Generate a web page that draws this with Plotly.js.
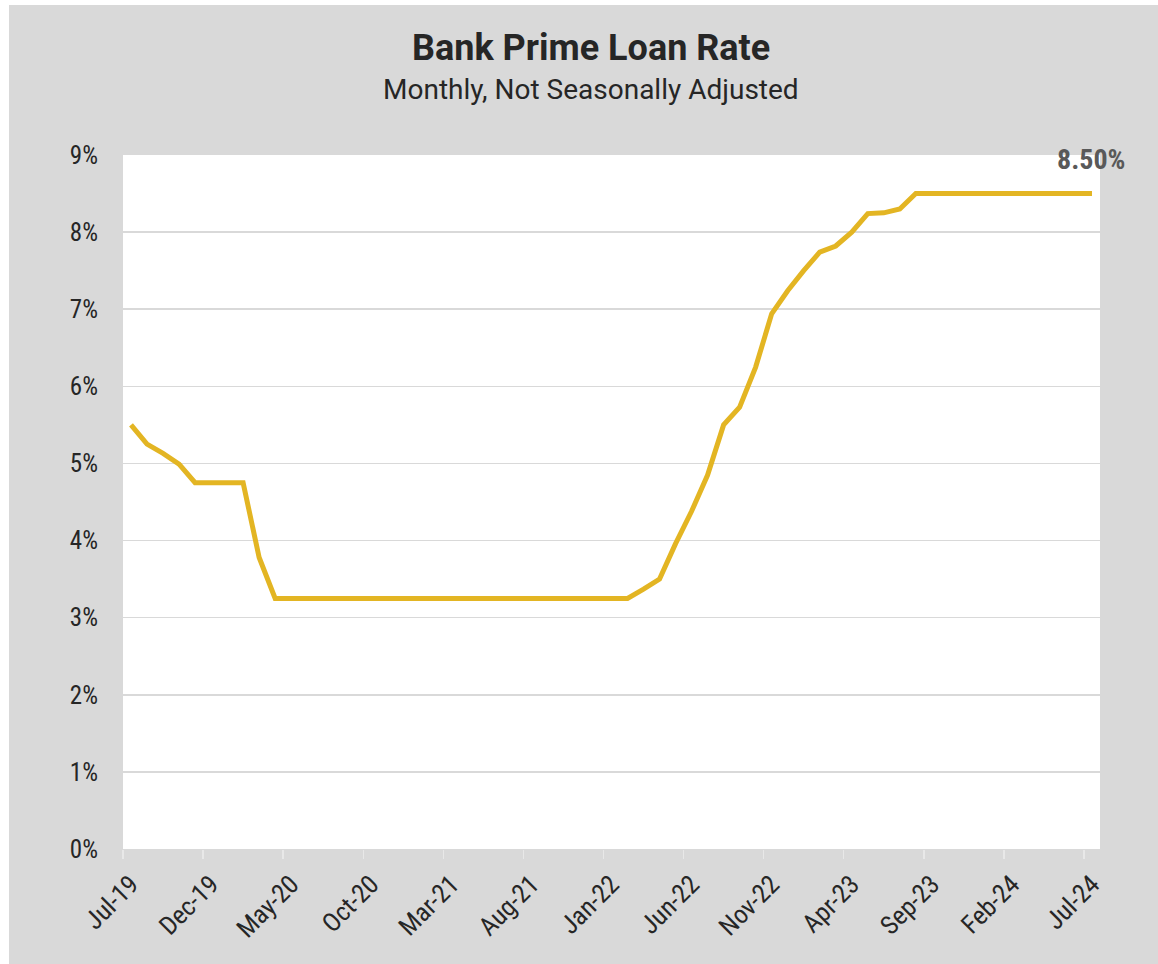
<!DOCTYPE html>
<html>
<head>
<meta charset="utf-8">
<script src="https://cdn.plot.ly/plotly-3.0.1.min.js"></script>
<style>
html,body{margin:0;padding:0;background:#ffffff;}
#chart{position:absolute;left:9px;top:5px;width:1149px;height:959px;}
</style>
</head>
<body>
<div id="chart"></div>
<script>
// Months (Jul-19 .. Jul-24)
const months = [
 "Jul-19","Aug-19","Sep-19","Oct-19","Nov-19","Dec-19",
 "Jan-20","Feb-20","Mar-20","Apr-20","May-20","Jun-20","Jul-20","Aug-20","Sep-20","Oct-20","Nov-20","Dec-20",
 "Jan-21","Feb-21","Mar-21","Apr-21","May-21","Jun-21","Jul-21","Aug-21","Sep-21","Oct-21","Nov-21","Dec-21",
 "Jan-22","Feb-22","Mar-22","Apr-22","May-22","Jun-22","Jul-22","Aug-22","Sep-22","Oct-22","Nov-22","Dec-22",
 "Jan-23","Feb-23","Mar-23","Apr-23","May-23","Jun-23","Jul-23","Aug-23","Sep-23","Oct-23","Nov-23","Dec-23",
 "Jan-24","Feb-24","Mar-24","Apr-24","May-24","Jun-24","Jul-24"
];
// Bank prime loan rate, %
const primeRate = [
 5.50,5.25,5.13,4.99,4.75,4.75,
 4.75,4.75,3.78,3.25,3.25,3.25,3.25,3.25,3.25,3.25,3.25,3.25,
 3.25,3.25,3.25,3.25,3.25,3.25,3.25,3.25,3.25,3.25,3.25,3.25,
 3.25,3.25,3.37,3.50,3.96,4.38,4.85,5.50,5.73,6.25,6.94,7.24,
 7.50,7.74,7.82,8.00,8.24,8.25,8.30,8.50,8.50,8.50,8.50,8.50,
 8.50,8.50,8.50,8.50,8.50,8.50,8.50
];
const tickLabels = ["Jul-19","Dec-19","May-20","Oct-20","Mar-21","Aug-21","Jan-22","Jun-22","Nov-22","Apr-23","Sep-23","Feb-24","Jul-24"];
const yTicks = [0,1,2,3,4,5,6,7,8,9];
const titleText = "Bank Prime Loan Rate";
const subtitleText = "Monthly, Not Seasonally Adjusted";

const lastIdx = primeRate.length - 1;
const xIdx = months.map((m, i) => i);
const tickIdx = tickLabels.map(t => months.indexOf(t));
const boundaryIdx = tickIdx.map(i => i - 0.5);

const trace = {
  x: xIdx, y: primeRate, type: 'scatter', mode: 'lines',
  line: {color: '#E3B523', width: 5, shape: 'linear'},
  hoverinfo: 'skip', showlegend: false
};
// invisible trace to carry the boundary ticks axis
const tickTrace = {
  x: [-0.5, lastIdx + 0.5], y: [0, 0], xaxis: 'x2', yaxis: 'y',
  mode: 'none', type: 'scatter', hoverinfo: 'skip', showlegend: false
};

const yTickFont = {family: 'Roboto Condensed, Roboto, sans-serif', size: 25, color: '#262626'};
const xTickFont = {family: 'Roboto Condensed, Roboto, sans-serif', size: 26, color: '#262626'};

const layout = {
  width: 1149, height: 959,
  paper_bgcolor: '#D9D9D9', plot_bgcolor: '#FFFFFF',
  margin: {l: 114, r: 58, t: 150, b: 115},
  xaxis: {
    range: [-0.5, lastIdx + 0.5], tickmode: 'array', tickvals: tickIdx, ticktext: tickLabels,
    tickangle: -45, tickfont: xTickFont, showgrid: false, zeroline: false, showline: false,
    ticks: '', ticklabelstandoff: 14, fixedrange: true
  },
  xaxis2: {
    overlaying: 'x', side: 'bottom', range: [-0.5, lastIdx + 0.5], tickmode: 'array',
    tickvals: boundaryIdx, showticklabels: false, ticks: 'outside', ticklen: 9,
    tickcolor: '#E8E8E8', tickwidth: 1.5, showgrid: false, zeroline: false, showline: false
  },
  yaxis: {
    range: [0, 9], tickmode: 'array', tickvals: yTicks, ticktext: yTicks.map(v => v + '%'),
    tickfont: yTickFont, showgrid: true, gridcolor: '#D9D9D9', gridwidth: 1.5,
    zeroline: false, showline: false, ticks: '', ticklabelstandoff: 24, fixedrange: true
  },
  annotations: [
    {
      x: 0.479, y: 1.154, xref: 'paper', yref: 'paper', text: '<b>' + titleText + '</b>',
      showarrow: false, xanchor: 'center', yanchor: 'middle',
      font: {family: 'Roboto, sans-serif', size: 36, color: '#262626'}
    },
    {
      x: 0.479, y: 1.095, xref: 'paper', yref: 'paper', text: subtitleText,
      showarrow: false, xanchor: 'center', yanchor: 'middle',
      font: {family: 'Roboto, sans-serif', size: 28, color: '#262626'}
    },
    {
      x: lastIdx, y: primeRate[lastIdx], xref: 'x', yref: 'y',
      text: '<b>' + primeRate[lastIdx].toFixed(2) + '%</b>', showarrow: false,
      font: {family: 'Roboto Condensed, Roboto, sans-serif', size: 28, color: '#595959'},
      xanchor: 'center', yanchor: 'bottom', yshift: 16, xshift: -1
    }
  ]
};

Plotly.newPlot('chart', [trace, tickTrace], layout, {displayModeBar: false, staticPlot: true});
</script>
</body>
</html>
